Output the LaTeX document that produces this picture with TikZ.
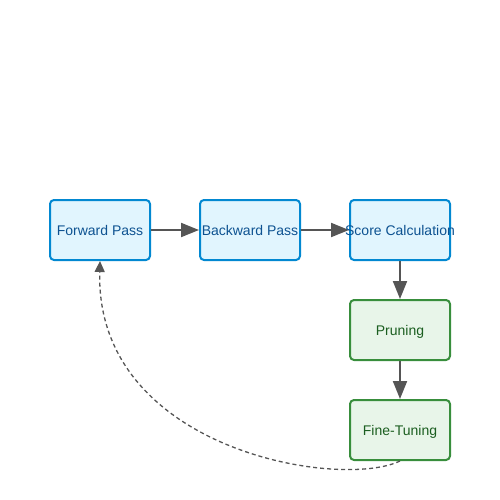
\documentclass[tikz,border=0pt]{standalone}
\usepackage{fontspec}
\setmainfont{Liberation Sans}
\usetikzlibrary{arrows.meta}
\definecolor{bluefill}{HTML}{E1F5FE}
\definecolor{blueline}{HTML}{0288D1}
\definecolor{bluetext}{HTML}{0D5291}
\definecolor{greenfill}{HTML}{E8F5E9}
\definecolor{greenline}{HTML}{388E3C}
\definecolor{greentext}{HTML}{1B5E20}
\definecolor{arrowgray}{HTML}{555555}
\tikzset{
  bluebox/.style={draw=blueline, fill=bluefill, line width=2pt, rounded corners=4pt,
    minimum width=100pt, minimum height=60pt, inner sep=0pt},
  greenbox/.style={draw=greenline, fill=greenfill, line width=2pt, rounded corners=4pt,
    minimum width=100pt, minimum height=60pt, inner sep=0pt},
  lbl/.style={font=\fontsize{14}{16}\selectfont, inner sep=0pt, text height=10pt, text depth=0pt},
  flow/.style={draw=arrowgray, line width=2pt, -{Triangle[length=18pt,width=14pt]}},
  loopback/.style={draw=arrowgray, line width=1.3pt, dash pattern=on 4pt off 3pt, -{Triangle[length=11pt,width=10pt]}}
}
\begin{document}
\begin{tikzpicture}[x=1pt,y=-1pt]
\useasboundingbox (0,0) rectangle (500,500);
\node[bluebox] (fp) at (100,230) {};
\node[bluebox] (bp) at (250,230) {};
\node[bluebox] (sc) at (400,230) {};
\node[greenbox] (pr) at (400,330) {};
\node[greenbox] (ft) at (400,430) {};
\draw[flow] (fp.east) -- (bp.west);
\draw[flow] (bp.east) -- (sc.west);
\draw[flow] (sc.south) -- (pr.north);
\draw[flow] (pr.south) -- (ft.north);
\draw[loopback] (ft.south) .. controls (340,490) and (95,450) .. (fp.south);
\node[lbl, text=bluetext] (fpt) at (100,230) {Forward Pass};
\node[lbl, text=bluetext] (bpt) at (250,230) {Backward Pass};
\node[lbl, text=bluetext] (sct) at (400,230) {Score Calculation};
\node[lbl, text=greentext] (prt) at (400,330) {Pruning};
\node[lbl, text=greentext] (ftt) at (400,430) {Fine-Tuning};
\end{tikzpicture}
\end{document}
